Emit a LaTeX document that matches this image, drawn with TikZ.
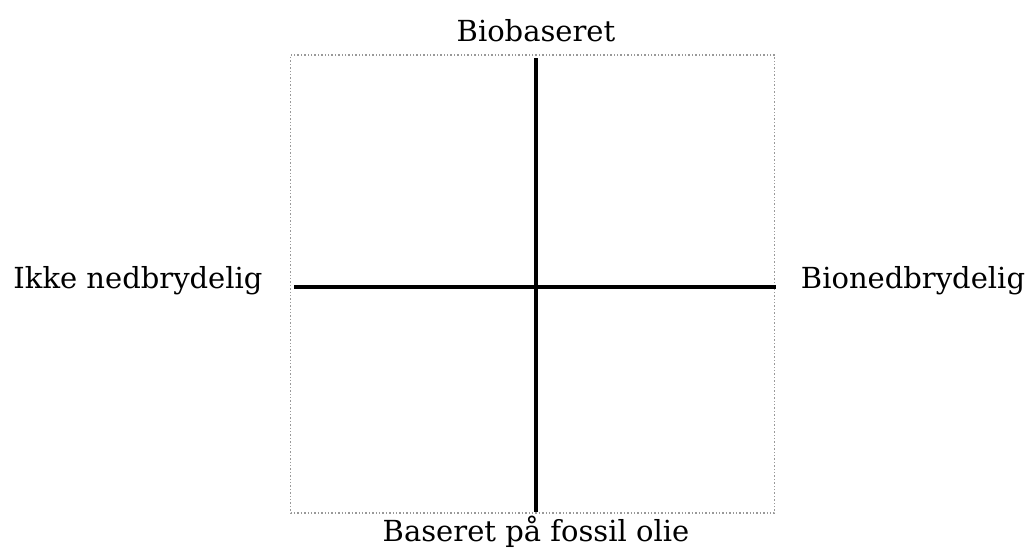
\documentclass[tikz,border=0pt]{standalone}
\usepackage{fontspec}
\setmainfont{DejaVu Serif}
\begin{document}
\begin{tikzpicture}[x=1pt,y=-1pt,
  axis/.style={line width=3.2pt,black},
  frame/.style={draw=gray!80,line width=1.4pt,dotted},
  lbl/.style={font=\fontsize{29}{34}\selectfont,inner sep=0pt}]
\useasboundingbox (0,0) rectangle (1031,555);
\node[frame,minimum width=484pt,minimum height=458pt,inner sep=0pt] (box) at (532.5,284) {};
\coordinate (top) at (536,58);
\coordinate (bot) at (536,512);
\coordinate (lft) at (294,287);
\coordinate (rgt) at (776,287);
\draw[axis] (top) -- (bot);
\draw[axis] (lft) -- (rgt);
\node[lbl] (n) at (536,31) {Biobaseret};
\node[lbl] (s) at (536,532) {Baseret på fossil olie};
\node[lbl] (w) at (138,281) {Ikke nedbrydelig};
\node[lbl] (e) at (913,281) {Bionedbrydelig};
\end{tikzpicture}
\end{document}
